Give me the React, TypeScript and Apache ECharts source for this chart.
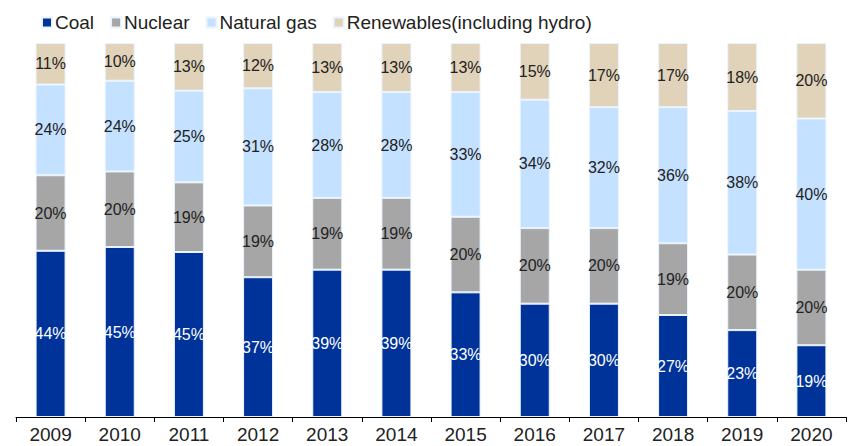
import React, { useEffect, useRef } from "react";
import * as echarts from "echarts";

const years = ["2009", "2010", "2011", "2012", "2013", "2014", "2015", "2016", "2017", "2018", "2019", "2020"];
const coal = [44, 45, 45, 37, 39, 39, 33, 30, 30, 27, 23, 19];
const nuclear = [20, 20, 19, 19, 19, 19, 20, 20, 20, 19, 20, 20];
const naturalGas = [24, 24, 25, 31, 28, 28, 33, 34, 32, 36, 38, 40];
const renewables = [11, 10, 13, 12, 13, 13, 13, 15, 17, 17, 18, 20];

const seriesDefs = [
  { name: "Coal", values: coal, color: "#003399", labelColor: "#ffffff" },
  { name: "Nuclear", values: nuclear, color: "#a6a6a6", labelColor: "#222222" },
  { name: "Natural gas", values: naturalGas, color: "#c4e1ff", labelColor: "#222222" },
  { name: "Renewables(including hydro)", values: renewables, color: "#e0d3b9", labelColor: "#222222" },
];

const FONT = "'Liberation Sans', Arial, sans-serif";

export default function App() {
  const ref = useRef<HTMLDivElement>(null);
  useEffect(() => {
    if (!ref.current) return;
    const chart = echarts.init(ref.current, null, { renderer: "svg" });
    const totals = years.map((_, i) => seriesDefs.reduce((s, d) => s + d.values[i], 0));
    chart.setOption({
      animation: false,
      textStyle: { fontFamily: FONT },
      legend: {
        left: 36,
        top: 8,
        itemWidth: 10,
        itemHeight: 10,
        itemGap: 16,
        icon: "rect",
        textStyle: { fontSize: 19, color: "#222", fontFamily: FONT, padding: [0, 0, 0, -2] },
        data: seriesDefs.map((d) => d.name),
      },
      grid: { left: 16, right: 14, top: 43, bottom: 29, containLabel: false },
      xAxis: {
        type: "category",
        data: years,
        axisLine: { lineStyle: { color: "#000", width: 1 } },
        axisTick: { show: true, length: 5, lineStyle: { color: "#000" } },
        axisLabel: { fontSize: 19, color: "#222", margin: 8, fontFamily: FONT },
      },
      yAxis: {
        type: "value",
        min: 0,
        max: 100,
        show: false,
        splitLine: { show: false },
      },
      series: seriesDefs.map((d) => ({
        name: d.name,
        type: "bar",
        stack: "total",
        barWidth: 30,
        itemStyle: { color: d.color, borderColor: "#eaf4ff", borderWidth: 1 },
        label: {
          show: true,
          position: "inside",
          color: d.labelColor,
          fontSize: 16,
          fontFamily: FONT,
          formatter: (p: any) => d.values[p.dataIndex] + "%",
        },
        data: d.values.map((v, i) => (v / totals[i]) * 100),
      })),
    });
    return () => chart.dispose();
  }, []);
  return <div ref={ref} style={{ width: 860, height: 446, position: "absolute", left: 0, top: 0 }} />;
}
